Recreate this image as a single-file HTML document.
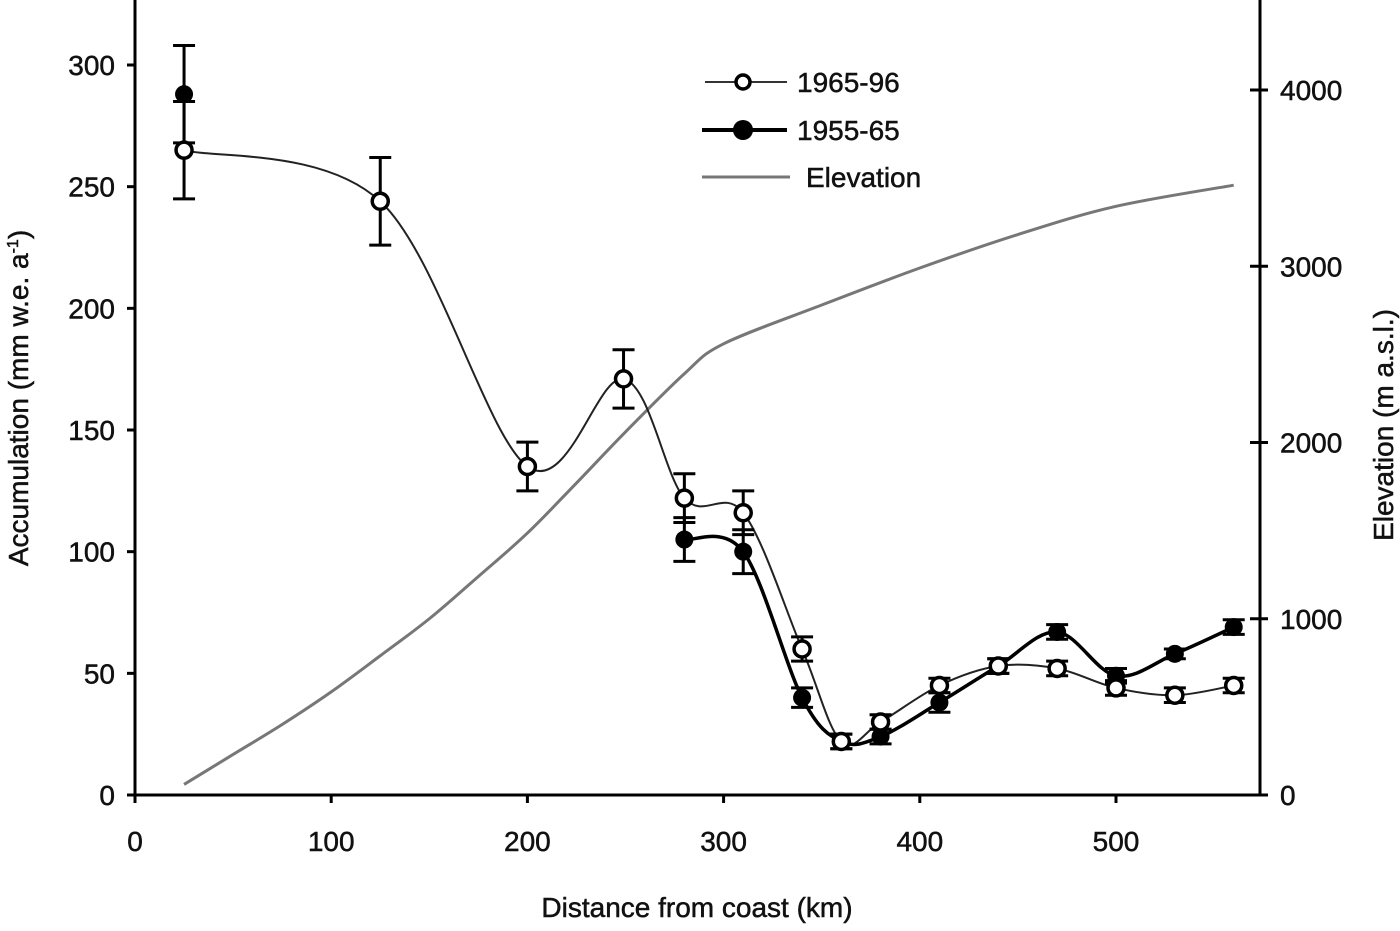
<!DOCTYPE html>
<html><head><meta charset="utf-8"><style>
body{margin:0;background:#fff}
svg text{font-family:"Liberation Sans",sans-serif;fill:#111;stroke:#111;stroke-width:0.5}
</style></head><body>
<svg id="c" width="1400" height="926" viewBox="0 0 1400 926"></svg>
<script>
const dist96=[25,125,200,249,280,310,340,360,380,410,440,470,500,530,560];
const acc96=[265,244,135,171,122,116,60,22,30,45,53,52,44,41,45];
const err96=[20,18,10,12,10,9,5,3,3,3,3,3,3,3,3];
const dist65=[280,310,340,360,380,410,440,470,500,530,560];
const acc65=[105,100,40,22,24,38,53,67,49,58,69];
const err65=[9,9,4,3,3,4,3,3,3,2,3];
const firstDist65=[25];const firstAcc65=[288];const firstErr65=[20];
const elevDist=[25,50,75,100,125,150,175,200,225,250,280,300,350,400,450,500,560];
const elevVal=[60,230,400,585,790,1000,1240,1486,1770,2060,2390,2560,2780,2990,3180,3340,3460];
const xTicks=[0,100,200,300,400,500];
const yTicks=[0,50,100,150,200,250,300];
const y2Ticks=[0,1000,2000,3000,4000];
const L=135,R=1260,T=0,B=795;
const X=d=>135+d*1.962, Y=v=>795-v*2.4333, Y2=v=>795-v*0.17625;
const svg=document.getElementById('c');const NS='http://www.w3.org/2000/svg';
function el(t,a,p){const e=document.createElementNS(NS,t);for(const k in a)e.setAttribute(k,a[k]);(p||svg).appendChild(e);return e;}
function smooth(pts){let d='M'+pts[0][0]+','+pts[0][1];for(let i=0;i<pts.length-1;i++){const p0=pts[i-1]||pts[i],p1=pts[i],p2=pts[i+1],p3=pts[i+2]||p2;const c1=[p1[0]+(p2[0]-p0[0])/6,p1[1]+(p2[1]-p0[1])/6],c2=[p2[0]-(p3[0]-p1[0])/6,p2[1]-(p3[1]-p1[1])/6];d+=`C${c1},${c2},${p2}`;}return d;}
let e;
e=el('path',{d:`M${L},${T}V${B}H${R}V${T}`,fill:'none',stroke:'#000','stroke-width':3});

xTicks.forEach(t=>{e=el('line',{x1:X(t),x2:X(t),y1:B,y2:B+8,stroke:'#000','stroke-width':3});
e=el('text',{x:X(t),y:B+56,'font-size':28,'text-anchor':'middle'});e.textContent=t;
});
yTicks.forEach(t=>{el('line',{x1:L-8,x2:L,y1:Y(t),y2:Y(t),stroke:'#000','stroke-width':3});
e=el('text',{x:L-20,y:Y(t)+10,'font-size':28,'text-anchor':'end'});e.textContent=t;
});
y2Ticks.forEach(t=>{el('line',{x1:R-10,x2:R+8,y1:Y2(t),y2:Y2(t),stroke:'#000','stroke-width':3});
e=el('text',{x:R+20,y:Y2(t)+10,'font-size':28,'text-anchor':'start'});e.textContent=t;
});
e=el('text',{x:697,y:917,'font-size':28,'text-anchor':'middle'});e.textContent='Distance from coast (km)';

e=el('text',{x:0,y:0,'font-size':28,'text-anchor':'middle',transform:'translate(28,398) rotate(-90)'});e.innerHTML='Accumulation (mm w.e. a<tspan font-size="16" dy="-10">-1</tspan><tspan dy="10">)</tspan>';

e=el('text',{x:0,y:0,'font-size':28,'text-anchor':'middle',transform:'translate(1393,425) rotate(-90)'});e.textContent='Elevation (m a.s.l.)';

e=el('path',{d:smooth(elevDist.map((d,i)=>[X(d),Y2(elevVal[i])])),fill:'none',stroke:'#777','stroke-width':3});

e=el('path',{d:smooth(dist96.map((d,i)=>[X(d),Y(acc96[i])])),fill:'none',stroke:'#222','stroke-width':2});

e=el('path',{d:smooth(dist65.map((d,i)=>[X(d),Y(acc65[i])])),fill:'none',stroke:'#000','stroke-width':3.5});

function err(d,v,s){const x=X(d);el('path',{d:`M${x},${Y(v+s)}V${Y(v-s)}M${x-11},${Y(v+s)}h22M${x-11},${Y(v-s)}h22`,stroke:'#000','stroke-width':3,fill:'none'});}
dist65.forEach((d,i)=>{err(d,acc65[i],err65[i]);e=el('circle',{cx:X(d),cy:Y(acc65[i]),r:9,fill:'#000'});
});
firstDist65.forEach((d,i)=>{err(d,firstAcc65[i],firstErr65[i]);e=el('circle',{cx:X(d),cy:Y(firstAcc65[i]),r:9,fill:'#000'});
});
dist96.forEach((d,i)=>{err(d,acc96[i],err96[i]);e=el('circle',{cx:X(d),cy:Y(acc96[i]),r:8,fill:'#fff',stroke:'#000','stroke-width':3.5});
});
const lg=el('g',{});
el('line',{x1:705,x2:787,y1:82,y2:82,stroke:'#333','stroke-width':2},lg);el('circle',{cx:743,cy:82,r:7,fill:'#fff',stroke:'#000','stroke-width':3.5},lg);
e=el('text',{x:797,y:92,'font-size':28},lg);e.textContent='1965-96';
el('line',{x1:702,x2:787,y1:130,y2:130,stroke:'#000','stroke-width':4},lg);el('circle',{cx:743,cy:130,r:10,fill:'#000'},lg);
e=el('text',{x:797,y:140,'font-size':28},lg);e.textContent='1955-65';
el('line',{x1:702,x2:790,y1:177,y2:177,stroke:'#777','stroke-width':3},lg);
e=el('text',{x:806,y:187,'font-size':28},lg);e.textContent='Elevation';
</script>
</body></html>
